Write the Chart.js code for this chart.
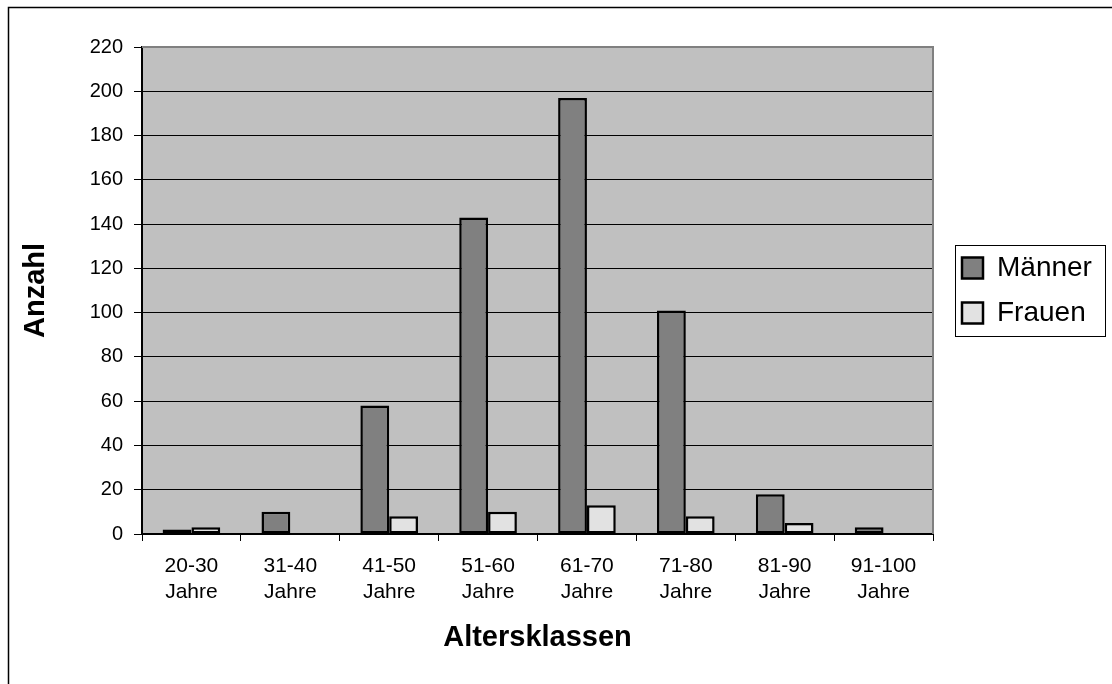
<!DOCTYPE html>
<html>
<head>
<meta charset="utf-8">
<script src="https://cdn.jsdelivr.net/npm/chart.js@4"></script>
<style>
  body { margin: 0; background: #fff; }
</style>
</head>
<body>
<canvas id="altersChart" width="1112" height="684"></canvas>
<script>
// Altersverteilung nach Geschlecht
const altersklassen = [
    ['20-30', 'Jahre'], ['31-40', 'Jahre'], ['41-50', 'Jahre'], ['51-60', 'Jahre'],
    ['61-70', 'Jahre'], ['71-80', 'Jahre'], ['81-90', 'Jahre'], ['91-100', 'Jahre']
];
const maenner = [2, 10, 58, 143, 197, 101, 18, 3];
const frauen = [3, 0, 8, 10, 13, 8, 5, 0];
const yMin = 0;
const yMax = 220;
const yStep = 20;

const FONT = 'Arial, "Liberation Sans", sans-serif';

// grey plot background, grey top/right edge, outer frame and legend frame
const frame = {
    id: 'frame',
    afterInit(chart) {
        const lg = chart.legend;
        const fit = lg.fit.bind(lg);
        lg.fit = function() { fit(); this.width = 179; };
    },
    afterLayout(chart) {
        const lg = chart.legend;
        const a = chart.chartArea;
        lg.left += 12;
        lg.right += 12;
        lg.top = a.top;
        lg.bottom = a.bottom;
        lg.height = a.bottom - a.top;
    },
    beforeDraw(chart) {
        const {ctx, chartArea: a} = chart;
        ctx.save();
        ctx.fillStyle = '#fff';
        ctx.fillRect(0, 0, chart.width, chart.height);
        ctx.fillStyle = '#c0c0c0';
        ctx.fillRect(a.left, a.top, a.right - a.left, a.bottom - a.top);
        ctx.restore();
    },
    beforeDatasetsDraw(chart) {
        const {ctx, chartArea: a} = chart;
        ctx.save();
        ctx.strokeStyle = '#808080';
        ctx.lineWidth = 2;
        ctx.beginPath();
        ctx.moveTo(a.left, a.top);
        ctx.lineTo(a.right, a.top);
        ctx.lineTo(a.right, a.bottom);
        ctx.stroke();
        ctx.restore();
    },
    afterDraw(chart) {
        const {ctx} = chart;
        const lg = chart.legend;
        ctx.save();
        ctx.strokeStyle = '#000';
        ctx.lineWidth = 1.5;
        ctx.strokeRect(8.5, 7.5, 3000, 3000);
        const cy = (lg.top + lg.bottom) / 2;
        ctx.lineWidth = 1;
        ctx.strokeRect(Math.round(lg.left + 10) + 0.5, Math.round(cy - 45.5) + 0.5, 150, 91);
        ctx.restore();
    }
};

const ctx = document.getElementById('altersChart').getContext('2d');

const altersChart = new Chart(ctx, {
    type: 'bar',
    data: {
        labels: altersklassen,
        datasets: [{
            label: 'Männer',
            data: maenner,
            backgroundColor: '#808080',
            borderColor: '#000',
            borderWidth: 2.5,
            borderSkipped: false
        }, {
            label: 'Frauen',
            data: frauen,
            backgroundColor: '#e2e2e2',
            borderColor: '#000',
            borderWidth: 2.5,
            borderSkipped: false
        }]
    },
    options: {
        responsive: false,
        animation: false,
        layout: {
            autoPadding: false,
            padding: { left: 0, top: 47, right: 0, bottom: 0 }
        },
        datasets: {
            bar: {
                categoryPercentage: 0.583,
                barPercentage: 1
            }
        },
        plugins: {
            legend: {
                position: 'right',
                labels: {
                    color: '#000',
                    font: { family: FONT, size: 28 },
                    boxWidth: 21,
                    boxHeight: 21,
                    padding: 17
                }
            },
            tooltip: { enabled: false }
        },
        scales: {
            x: {
                afterFit: s => { s.height = 150; },
                grid: {
                    offset: true,
                    drawOnChartArea: false,
                    color: '#000',
                    tickLength: 7,
                    tickWidth: 1
                },
                border: { color: '#000', width: 2 },
                ticks: {
                    color: '#000',
                    font: { family: FONT, size: 21, lineHeight: 1.25 },
                    padding: 12,
                    maxRotation: 0,
                    autoSkip: false
                },
                title: {
                    display: true,
                    text: 'Altersklassen',
                    color: '#000',
                    font: { family: FONT, size: 29, weight: 'bold' },
                    padding: { top: 0, bottom: 29 }
                }
            },
            y: {
                min: yMin,
                max: yMax,
                afterFit: s => { s.width = 142; },
                grid: {
                    color: '#000',
                    lineWidth: 1,
                    tickLength: 8
                },
                border: { color: '#000', width: 2 },
                ticks: {
                    stepSize: yStep,
                    color: '#000',
                    font: { family: FONT, size: 20 },
                    padding: 11
                },
                title: {
                    display: true,
                    text: 'Anzahl',
                    color: '#000',
                    font: { family: FONT, size: 29, weight: 'bold' },
                    padding: { top: 19, bottom: 0 }
                }
            }
        }
    },
    plugins: [frame]
});
</script>
</body>
</html>
